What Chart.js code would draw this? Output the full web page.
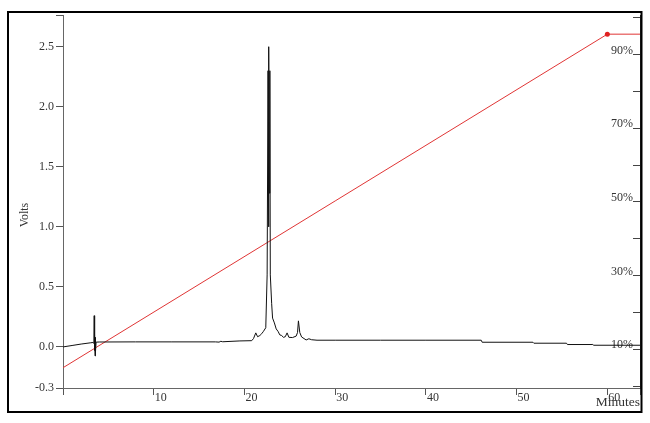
<!DOCTYPE html>
<html>
<head>
<meta charset="utf-8">
<script src="https://cdn.jsdelivr.net/npm/chart.js@4"></script>
<style>
  body { margin: 0; background: #fff; }
  canvas { display: block; }
</style>
</head>
<body>
<canvas id="chart" width="650" height="423"></canvas>
<script>
// detector signal (minutes / volts)
const signalTimes = [0, 1, 2, 3, 3.3, 3.4, 3.44, 3.47, 3.5, 3.53, 3.56, 3.6, 3.65, 4, 8, 12, 16.8, 17.2, 17.4, 17.6,
  19.5, 20.8, 21.0, 21.25, 21.45, 21.7, 21.9, 22.1, 22.35, 22.5, 22.6, 22.65, 22.7, 22.75, 22.8, 22.85,
  23.0, 23.1, 23.3, 23.5, 23.7, 23.9, 24.1, 24.3, 24.5, 24.7, 24.9, 25.3, 25.7, 25.85, 25.95, 26.1, 26.3,
  26.8, 27.1, 27.4, 28, 30, 35, 40, 46.1, 46.2, 51.8, 51.9, 55.5, 55.6, 58.4, 58.5, 63.6];
const signalVolts = [0, 0.012, 0.024, 0.034, 0.037, 0.03, 0.26, -0.03, 0.11, -0.075, 0.08, -0.04, 0.04, 0.041, 0.042, 0.042, 0.042, 0.04, 0.047, 0.043,
  0.05, 0.052, 0.07, 0.117, 0.085, 0.095, 0.11, 0.13, 0.16, 0.6, 2.3, 1.0, 2.5, 1.28, 2.3, 0.6,
  0.36, 0.24, 0.2, 0.15, 0.13, 0.1, 0.095, 0.08, 0.085, 0.117, 0.08, 0.078, 0.09, 0.12, 0.217, 0.12, 0.083,
  0.058, 0.068, 0.06, 0.056, 0.056, 0.056, 0.056, 0.056, 0.039, 0.039, 0.031, 0.031, 0.02, 0.02, 0.014, 0.014];

// solvent gradient (minutes / %B)
const gradientTimes = [0, 60, 63.6];
const gradientPercent = [5, 95.5, 95.5];

const minuteTicks = [0, 10, 20, 30, 40, 50, 60, 63.6];
const minuteLabels = ['', '10', '20', '30', '40', '50', '60', ''];
const voltTicks = [-0.342, 0, 0.5, 1, 1.5, 2, 2.5, 2.764];
const voltLabels = ['-0.3', '0.0', '0.5', '1.0', '1.5', '2.0', '2.5', ''];
const percentTicks = [0, 10, 20, 30, 40, 50, 60, 70, 80, 90, 100];
const percentLabels = ['', '10%', '', '30%', '', '50%', '', '70%', '', '90%', ''];

const serif = '"Liberation Serif", "Times New Roman", serif';
Chart.defaults.font.family = serif;
Chart.defaults.font.size = 12;
Chart.defaults.color = '#333';

const framePlugin = {
  id: 'frame',
  beforeDraw(chart) {
    const c = chart.ctx;
    c.save();
    c.fillStyle = '#fff';
    c.fillRect(0, 0, chart.width, chart.height);
    c.restore();
  },
  afterDraw(chart) {
    const c = chart.ctx;
    c.save();
    c.strokeStyle = '#000';
    c.lineWidth = 2;
    c.strokeRect(8, 12, 633.5, 400);
    // y axis title
    c.translate(25, 215);
    c.rotate(-Math.PI / 2);
    c.font = '12px ' + serif;
    c.fillStyle = '#333';
    c.textAlign = 'center';
    c.textBaseline = 'middle';
    c.fillText('Volts', 0, 0);
    c.restore();
  }
};

const ctx = document.getElementById('chart');

new Chart(ctx, {
  type: 'line',
  data: {
    datasets: [{
      label: 'Signal',
      data: signalTimes.map((t, i) => ({x: t, y: signalVolts[i]})),
      yAxisID: 'y',
      borderColor: '#111',
      borderWidth: 1,
      pointRadius: 0,
      tension: 0
    }, {
      label: 'Gradient',
      data: gradientTimes.map((t, i) => ({x: t, y: gradientPercent[i]})),
      yAxisID: 'y1',
      borderColor: '#e03535',
      borderWidth: 1,
      pointRadius: [0, 2.5, 0],
      pointBackgroundColor: '#e02020',
      pointBorderWidth: 0,
      tension: 0
    }]
  },
  options: {
    responsive: false,
    animation: false,
    devicePixelRatio: 1,
    layout: { padding: { top: 15, bottom: 12, left: 0, right: 0 } },
    plugins: { legend: { display: false }, tooltip: { enabled: false } },
    scales: {
      x: {
        type: 'linear',
        position: 'bottom',
        min: 0,
        max: 63.6,
        afterBuildTicks: axis => { axis.ticks = minuteTicks.map(v => ({value: v})); },
        afterFit: axis => { axis.height = 23; },
        grid: { drawOnChartArea: false, tickLength: 7, color: '#555' },
        border: { color: '#666' },
        ticks: {
          align: 'start',
          padding: -4,
          labelOffset: 1,
          maxRotation: 0,
          autoSkip: false,
          callback: (v, i) => minuteLabels[i]
        },
        title: { display: true, text: 'Minutes', align: 'end', padding: 0, font: { size: 13.5 } }
      },
      y: {
        position: 'left',
        min: -0.342,
        max: 2.764,
        afterBuildTicks: axis => { axis.ticks = voltTicks.map(v => ({value: v})); },
        afterFit: axis => { axis.width = 63; },
        grid: { drawOnChartArea: false, tickLength: 7, color: '#555' },
        border: { color: '#666' },
        ticks: { padding: 2, autoSkip: false, callback: (v, i) => voltLabels[i] }
      },
      y1: {
        position: 'right',
        min: -0.5,
        max: 100.7,
        afterBuildTicks: axis => { axis.ticks = percentTicks.map(v => ({value: v})); },
        afterFit: axis => { axis.width = 10; },
        grid: { drawOnChartArea: false, tickLength: -7, color: '#444' },
        border: { color: '#222' },
        ticks: { mirror: true, padding: -7, labelOffset: -4, autoSkip: false, callback: (v, i) => percentLabels[i] }
      }
    }
  },
  plugins: [framePlugin]
});
</script>
</body>
</html>
